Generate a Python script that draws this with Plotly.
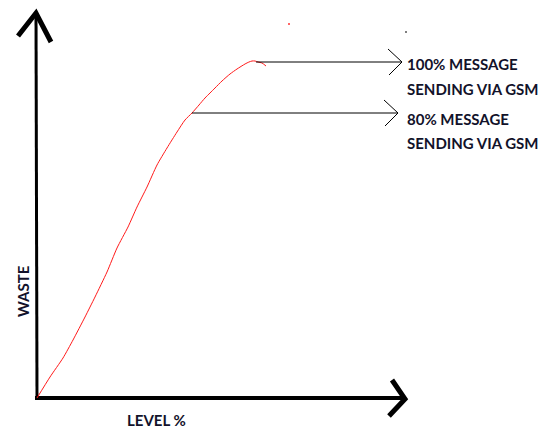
import plotly.graph_objects as go

# Curve: waste vs level (origin at axis corner)
level = [0, 13, 26, 36, 48, 58, 70, 80, 91, 100, 110, 120, 130, 140, 148, 155,
         162, 168, 173, 178, 185, 193, 200, 208, 212, 215, 218, 221, 225, 229]
waste = [0, 21, 40, 58, 81, 101, 126, 150, 171, 191, 211, 233, 250, 266, 278, 285,
         293, 300, 305, 310, 317, 324, 329, 334, 336, 337, 337, 336, 335, 332]

# Threshold arrows (start level, end level, waste level)
arrow_levels = [336, 285]
arrow_start = [219, 155]
arrow_end = [365, 361]
label_lines = [["100% MESSAGE", "SENDING VIA GSM"], ["80% MESSAGE", "SENDING VIA GSM"]]
label_y = [[334.5, 309], [279.5, 255]]
label_x = 368

# Axis extents
x_axis_end = 368
y_axis_end = 385

fig = go.Figure()

black = "#000000"
txt = "#12122a"

# Y axis shaft + head
fig.add_trace(go.Scatter(x=[0, -1], y=[0, y_axis_end], mode="lines",
                         line=dict(color=black, width=3), hoverinfo="skip"))
fig.add_trace(go.Scatter(x=[-19, -1, 14], y=[362, y_axis_end, 356], mode="lines",
                         line=dict(color=black, width=5), hoverinfo="skip"))
# X axis shaft + head
fig.add_trace(go.Scatter(x=[-2, x_axis_end - 2], y=[0, 0], mode="lines",
                         line=dict(color=black, width=4), hoverinfo="skip"))
fig.add_trace(go.Scatter(x=[355, x_axis_end, 352], y=[18, -1, -18], mode="lines",
                         line=dict(color=black, width=5), hoverinfo="skip"))

# Curve
fig.add_trace(go.Scatter(x=level, y=waste, mode="lines",
                         line=dict(color="#ff1a1a", width=1, shape="spline", smoothing=0.6),
                         hoverinfo="skip"))

# Arrows to labels
for wl, xs, xe in zip(arrow_levels, arrow_start, arrow_end):
    fig.add_trace(go.Scatter(x=[xs, xe], y=[wl, wl], mode="lines",
                             line=dict(color=black, width=1), hoverinfo="skip"))
    fig.add_trace(go.Scatter(x=[xe - 14, xe, xe - 13], y=[wl + 13, wl, wl - 13], mode="lines",
                             line=dict(color=black, width=1), hoverinfo="skip"))

for lines, ys in zip(label_lines, label_y):
    for t, yy in zip(lines, ys):
        fig.add_annotation(x=label_x, y=yy, text="<b>" + t + "</b>", showarrow=False,
                           xanchor="left", yanchor="middle",
                           font=dict(family="Lato", size=15, color=txt))

# Stray dots
fig.add_trace(go.Scatter(x=[252], y=[374], mode="markers",
                         marker=dict(color="#ff3333", size=2), hoverinfo="skip"))
fig.add_trace(go.Scatter(x=[369], y=[366], mode="markers",
                         marker=dict(color="#555555", size=2), hoverinfo="skip"))

# Axis titles
fig.add_annotation(x=119, y=-22, text="<b>LEVEL %</b>", showarrow=False,
                   font=dict(family="Lato", size=15, color=txt))
fig.add_annotation(x=-14, y=107, text="<b>WASTE</b>", showarrow=False, textangle=-90,
                   font=dict(family="Lato", size=15, color=txt))

fig.update_layout(
    width=548, height=429,
    margin=dict(l=0, r=0, t=0, b=0),
    paper_bgcolor="white", plot_bgcolor="white",
    showlegend=False,
    xaxis=dict(range=[-37, 511], visible=False, fixedrange=True),
    yaxis=dict(range=[-31, 398], visible=False, fixedrange=True),
)

fig.write_html("out.html", config={"displayModeBar": False},
               post_script="document.body.style.margin='0px';document.body.style.overflow='hidden';")
